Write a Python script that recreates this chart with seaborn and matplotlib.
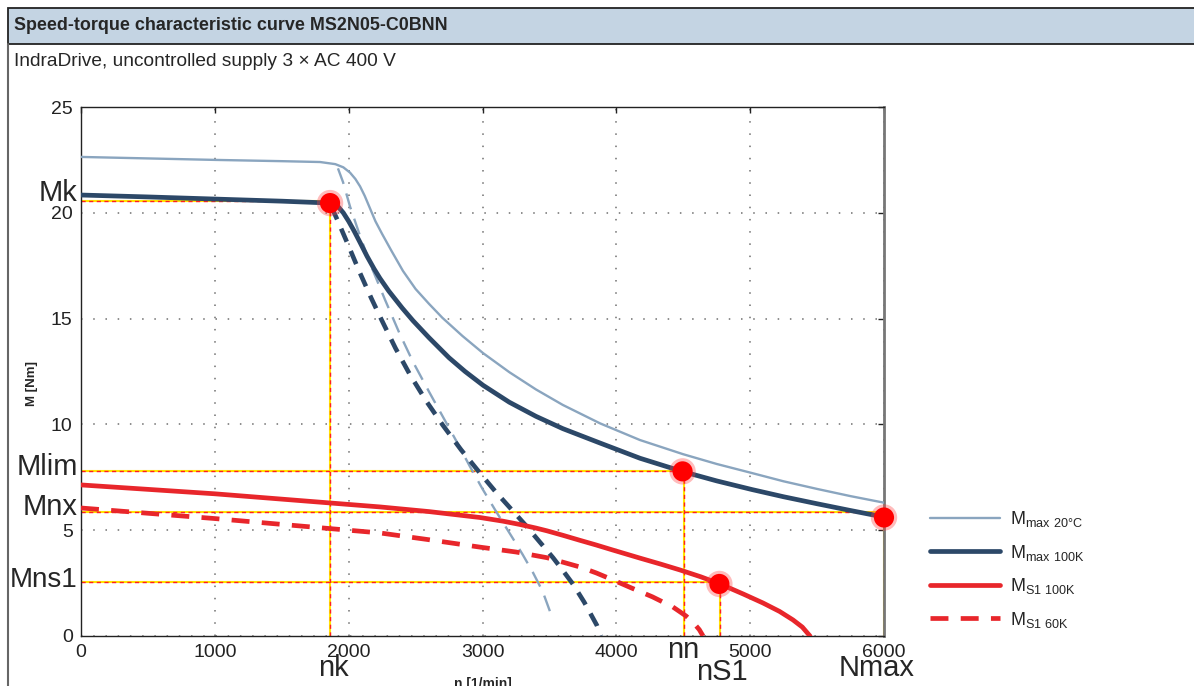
import numpy as np
import pandas as pd
import matplotlib
matplotlib.use("Agg")
import matplotlib.pyplot as plt
from matplotlib.lines import Line2D
from matplotlib.patches import Rectangle
import seaborn as sns

# ---------------- data ----------------
title = "Speed-torque characteristic curve MS2N05-C0BNN"
subtitle = "IndraDrive, uncontrolled supply 3 × AC 400 V"

n_max20 = [0, 500, 1000, 1500, 1786, 1900, 1960, 2010, 2050, 2085, 2120, 2160, 2200, 2250, 2320,
           2406, 2500, 2600, 2700, 2850, 3004, 3200, 3400, 3600, 3878, 4177, 4500, 4750, 5014,
           5250, 5500, 5750, 6000]
m_max20 = [22.64, 22.57, 22.5, 22.44, 22.4, 22.3, 22.15, 21.9, 21.6, 21.25, 20.8, 20.2, 19.6, 19.0, 18.2,
           17.25, 16.4, 15.7, 15.04, 14.18, 13.37, 12.47, 11.65, 10.92, 10.05, 9.26, 8.59, 8.13, 7.7,
           7.31, 6.95, 6.61, 6.3]

n_max20_lim = [1920, 1958, 2010, 2080, 2160, 2271, 2380, 2481, 2600, 2705, 2810, 2907, 3000, 3100,
               3228, 3300, 3377, 3450, 3525]
m_max20_lim = [22.1, 21.45, 20.3, 19.0, 17.6, 15.9, 14.3, 12.95, 11.55, 10.35, 9.15, 8.0, 6.95, 5.9,
               4.6, 3.85, 3.0, 2.1, 0.8]

n_max100 = [0, 500, 1000, 1500, 1861, 1920, 1960, 2000, 2040, 2085, 2137, 2190, 2234, 2300, 2400,
            2481, 2600, 2750, 2870, 3004, 3200, 3400, 3600, 3878, 4177, 4491, 4750, 5014, 5250,
            5500, 5750, 6000]
m_max100 = [20.84, 20.75, 20.65, 20.55, 20.46, 20.3, 20.0, 19.6, 19.15, 18.6, 17.95, 17.35, 16.9, 16.3, 15.5,
            14.9, 14.1, 13.15, 12.5, 11.85, 11.05, 10.38, 9.8, 9.12, 8.4, 7.78, 7.33, 6.92, 6.58,
            6.25, 5.93, 5.62]

n_max100_lim = [1870, 1920, 1988, 2085, 2170, 2249, 2350, 2458, 2580, 2705, 2840, 2981, 3100, 3228,
                3320, 3407, 3527, 3600, 3676, 3760, 3855, 3885]
m_max100_lim = [20.3, 19.6, 18.6, 17.15, 15.95, 14.9, 13.6, 12.35, 11.1, 9.95, 8.8, 7.7, 6.8, 5.9,
                5.25, 4.6, 3.7, 3.1, 2.45, 1.6, 0.5, 0.0]

n_s1_100 = [0, 500, 1000, 1636, 2234, 2600, 2981, 3150, 3280, 3400, 3482, 3600, 3729, 3850, 3975,
            4177, 4330, 4476, 4630, 4775, 4950, 5096, 5220, 5320, 5390, 5447]
m_s1_100 = [7.14, 6.93, 6.72, 6.4, 6.1, 5.88, 5.6, 5.43, 5.27, 5.1, 4.97, 4.76, 4.52, 4.3, 4.06,
            3.68, 3.4, 3.12, 2.8, 2.46, 1.98, 1.56, 1.16, 0.76, 0.42, 0.0]

n_s1_60 = [0, 500, 1000, 1636, 2234, 2600, 2981, 3250, 3482, 3729, 3850, 3975, 4102, 4270, 4423,
           4520, 4573, 4620, 4648]
m_s1_60 = [6.05, 5.8, 5.55, 5.2, 4.87, 4.55, 4.2, 3.97, 3.7, 3.26, 2.98, 2.65, 2.3, 1.85, 1.37,
           0.95, 0.65, 0.3, 0.0]

# characteristic points
pt_n = [1861, 4495, 6000, 4770]
pt_m = [20.46, 7.78, 5.6, 2.46]
ref_h = [20.55, 7.81, 5.85, 2.57]     # horizontal guide levels
ref_v = [1861, 4508, 6000, 4775]      # vertical guide positions
m_labels = ["Mk", "Mlim", "Mnx", "Mns1"]
m_label_y = [20.94, 7.99, 6.1, 2.65]
n_labels = ["nk", "nn", "nS1", "Nmax"]
n_label_x = [1883, 4498, 4790, 5948]
n_label_y = [-1.51, -0.66, -1.7, -1.51]

x_ticks = [0, 1000, 2000, 3000, 4000, 5000, 6000]
y_ticks = [0, 5, 10, 15, 20, 25]

legend_labels = [r"M$_\mathregular{max\ 20°C}$", r"M$_\mathregular{max\ 100K}$",
                 r"M$_\mathregular{S1\ 100K}$", r"M$_\mathregular{S1\ 60K}$"]

# ---------------- style ----------------
sns.set_style("white")
plt.rcParams["font.family"] = ["Liberation Sans", "DejaVu Sans"]
plt.rcParams["mathtext.fontset"] = "custom"
plt.rcParams["mathtext.rm"] = "Liberation Sans"

c_light = "#8aa5bf"
c_dark = "#2c4868"
c_red = "#e8262b"

W, H = 1194, 686
fig = plt.figure(figsize=(W / 100, H / 100), dpi=100)
fig.patch.set_facecolor("white")

# page frame / header
fig.patches.append(Rectangle((8 / W, 1 - 44 / H), 1.0, 36 / H, transform=fig.transFigure,
                             facecolor="#c4d4e3", edgecolor="#222222", lw=1.3, zorder=0))
fig.lines.append(Line2D([8 / W, 8 / W], [0, 1 - 44 / H], transform=fig.transFigure,
                        color="#666666", lw=1.5))
fig.text(14 / W, 1 - 25.5 / H, title, fontsize=12.9, fontweight="bold", va="center", ha="left")
fig.text(14 / W, 1 - 62 / H, subtitle, fontsize=13.8, va="center", ha="left")

ax = fig.add_axes([81 / W, 1 - 636 / H, (884 - 81) / W, (636 - 107) / H])
ax.set_facecolor("white")

# guide lines
for yv, xv, vx, vm in zip(ref_h, pt_n, ref_v, pt_m):
    for xs, ys in (([0, xv], [yv, yv]), ([vx, vx], [0, vm])):
        ax.plot(xs, ys, color="#ffe600", lw=1.5, zorder=2)
        ax.plot(xs, ys, color="#ff2020", lw=1.0, linestyle=(0, (3, 2.5)), zorder=2.1)

sns.lineplot(x=n_max20_lim, y=m_max20_lim, ax=ax, color=c_light, lw=1.7,
             linestyle=(0, (7.0, 4.2)), zorder=3)
sns.lineplot(x=n_max100_lim, y=m_max100_lim, ax=ax, color=c_dark, lw=3.3,
             linestyle=(0, (3.1, 2.2)), zorder=3)
sns.lineplot(x=n_max20, y=m_max20, ax=ax, color=c_light, lw=1.7, zorder=4)
sns.lineplot(x=n_max100, y=m_max100, ax=ax, color=c_dark, lw=3.4, zorder=4)
sns.lineplot(x=n_s1_60, y=m_s1_60, ax=ax, color=c_red, lw=3.4,
             linestyle=(0, (3.8, 2.6)), zorder=4)
sns.lineplot(x=n_s1_100, y=m_s1_100, ax=ax, color=c_red, lw=3.4, zorder=4)

pts = pd.DataFrame({"n": pt_n, "m": pt_m})
sns.scatterplot(data=pts, x="n", y="m", ax=ax, s=360, color="#ff4040", alpha=0.35,
                edgecolor="none", zorder=5, clip_on=False, legend=False)
sns.scatterplot(data=pts, x="n", y="m", ax=ax, s=210, color="#ff0000",
                edgecolor="none", zorder=6, clip_on=False, legend=False)

ax.set_xlim(0, 6000)
ax.set_ylim(0, 25)
ax.set_xticks(x_ticks)
ax.set_yticks(y_ticks)
ax.tick_params(direction="in", top=True, right=True, length=4, width=1,
               labelsize=14, pad=6, colors="#222222")
ax.grid(True, color="#6f6f6f", lw=1.1, linestyle=(0, (1, 7)))
for s in ["left", "bottom", "top"]:
    ax.spines[s].set_color("#222222")
    ax.spines[s].set_linewidth(1.0)
ax.spines["right"].set_color("#777777")
ax.spines["right"].set_linewidth(2.0)

ax.set_xlabel("n [1/min]", fontsize=10, fontweight="bold")
ax.set_ylabel("M [Nm]", fontsize=9.5, fontweight="bold")
ax.xaxis.set_label_coords(0.5, -0.078)
ax.yaxis.set_label_coords(-0.0535, 0.478)

# characteristic labels
m_sizes = [21, 21, 21, 20]
for lab, yv, fs in zip(m_labels, m_label_y, m_sizes):
    ax.text(-0.004, yv, lab, transform=ax.get_yaxis_transform(), ha="right", va="center",
            fontsize=fs, clip_on=False)
for lab, xv, yv in zip(n_labels, n_label_x, n_label_y):
    ax.text(xv, yv, lab, ha="center", va="center", fontsize=21, clip_on=False)

# legend
handles = [Line2D([], [], color=c_light, lw=1.7),
           Line2D([], [], color=c_dark, lw=3.4),
           Line2D([], [], color=c_red, lw=3.4),
           Line2D([], [], color=c_red, lw=3.4, linestyle=(0, (3.8, 2.6)))]
fig.legend(handles, legend_labels, loc="upper left", bbox_to_anchor=(930 / W, 1 - 509 / H),
           frameon=False, fontsize=13, handlelength=3.9, handletextpad=0.55,
           borderpad=0, borderaxespad=0, labelspacing=0.75)

fig.savefig("out.png", dpi=100, facecolor="white")
